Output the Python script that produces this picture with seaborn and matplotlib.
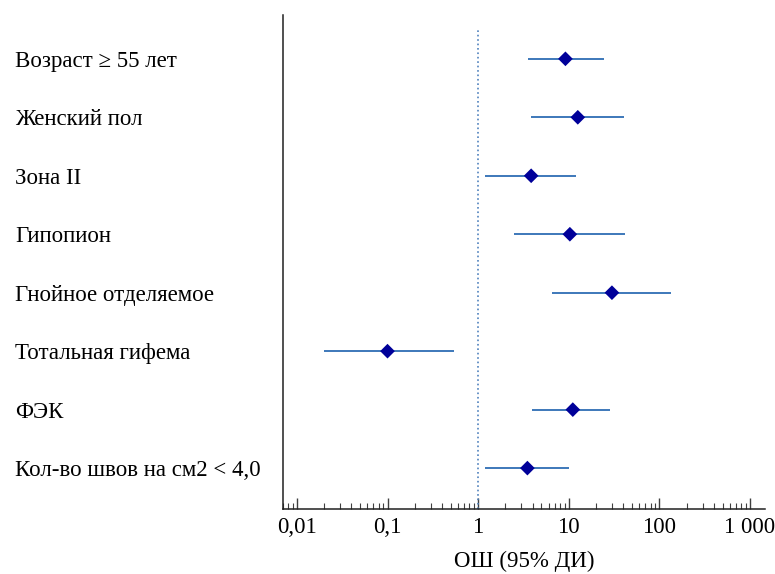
import matplotlib
matplotlib.use("Agg")
import matplotlib.pyplot as plt
import matplotlib.ticker as mticker
import numpy as np
import seaborn as sns

# Forest plot data (odds ratio with 95% CI), top to bottom
factors = [
    "Возраст ≥ 55 лет",
    "Женский пол",
    "Зона II",
    "Гипопион",
    "Гнойное отделяемое",
    "Тотальная гифема",
    "ФЭК",
    "Кол-во швов на см2 < 4,0",
]
odds_ratio = [9.2, 12.6, 3.85, 10.3, 30.0, 0.10, 11.1, 3.5]
ci_low = [3.55, 3.8, 1.2, 2.47, 6.5, 0.020, 3.95, 1.2]
ci_high = [24.5, 40.5, 12.1, 41.5, 135.0, 0.54, 28.8, 10.1]

tick_values = [0.01, 0.1, 1, 10, 100, 1000]
tick_labels = ["0,01", "0,1", "1", "10", "100", "1 000"]

sns.set_style("ticks")
plt.rcParams["font.family"] = ["Liberation Serif", "DejaVu Serif"]
plt.rcParams["text.color"] = "black"
plt.rcParams["xtick.labelcolor"] = "black"
plt.rcParams["ytick.labelcolor"] = "black"
plt.rcParams["axes.labelcolor"] = "black"

fig = plt.figure(figsize=(7.75, 5.74), dpi=100)
ax = fig.add_axes([0.365, 0.1132, 0.622, 0.8607])

ypos = np.arange(len(factors))

ax.axvline(1, ymax=0.97, color="#4F81BD", linestyle=":", linewidth=1.2, zorder=1)
ax.hlines(ypos, ci_low, ci_high, color="#2E6DB4", linewidth=1.3, zorder=2)
sns.scatterplot(x=odds_ratio, y=ypos, marker="D", s=56, color="#000099",
                edgecolor="none", ax=ax, zorder=3)

ax.set_xscale("log")
ax.set_xlim(0.007, 1465)
ax.set_ylim(7.70, -0.75)

ax.set_xticks(tick_values)
ax.set_xticklabels(tick_labels, fontsize=16.5)
ax.xaxis.set_minor_locator(mticker.LogLocator(base=10, subs=np.arange(2, 10)))
ax.xaxis.set_minor_formatter(mticker.NullFormatter())
ax.tick_params(axis="x", which="major", direction="in", length=8, width=1,
               color="#404040", pad=6)
ax.tick_params(axis="x", which="minor", direction="in", length=4.5, width=0.8,
               color="#404040")

ax.set_yticks(ypos)
ax.set_yticklabels(factors, fontsize=16.5, ha="left")
ax.tick_params(axis="y", length=0, pad=193)

ax.set_xlabel("ОШ (95% ДИ)", fontsize=16.5, labelpad=9)
ax.set_ylabel("")

sns.despine(ax=ax, top=True, right=True)
for side in ["left", "bottom"]:
    ax.spines[side].set_color("#202020")
    ax.spines[side].set_linewidth(1.1)

fig.savefig("out.png", dpi=100)
